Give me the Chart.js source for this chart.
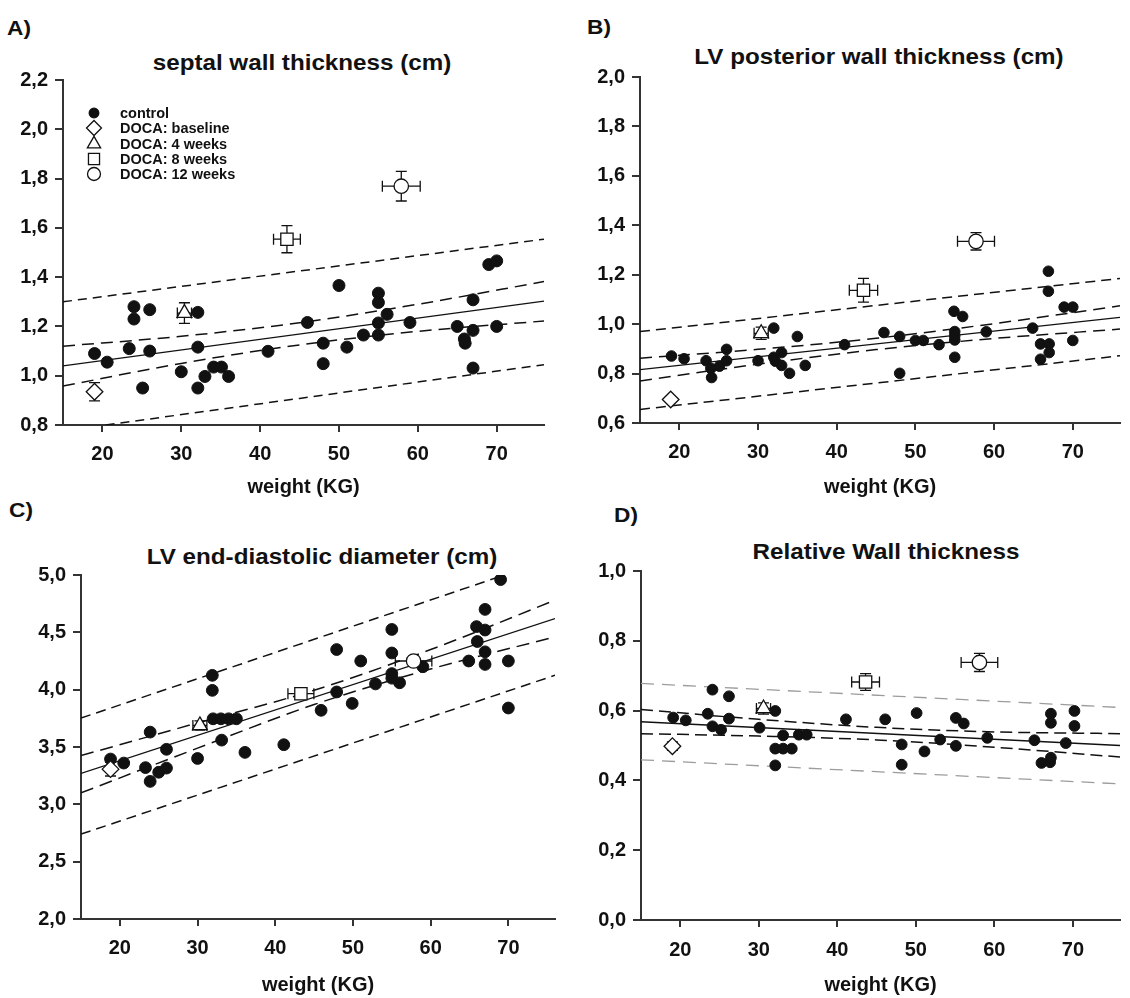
<!DOCTYPE html>
<html>
<head>
<meta charset="utf-8">
<script src="https://cdn.jsdelivr.net/npm/chart.js@4.4.1/dist/chart.umd.min.js"></script>
<style>
  body { margin: 0; background: #fff; width: 1130px; height: 998px; position: relative; overflow: hidden;
         font-family: "Liberation Sans", Arial, sans-serif; color: #111; }
  canvas { position: absolute; }
  .lbl { position: absolute; font-weight: bold; font-size: 21px; line-height: 1; transform: scaleX(1.08); transform-origin: left center; }
  .ttl { position: absolute; font-weight: bold; font-size: 22px; line-height: 1; white-space: nowrap;
         transform: translate(-50%, -50%) scaleX(1.1); }
</style>
</head>
<body>
<div class="lbl" style="left:7px;top:17px">A)</div>
<div class="lbl" style="left:587px;top:16px">B)</div>
<div class="lbl" style="left:9px;top:499px">C)</div>
<div class="lbl" style="left:614px;top:504px">D)</div>
<div class="ttl" style="left:302px;top:63px">septal wall thickness (cm)</div>
<div class="ttl" style="left:879px;top:57px">LV posterior wall thickness (cm)</div>
<div class="ttl" style="left:322px;top:557px">LV end-diastolic diameter (cm)</div>
<div class="ttl" style="left:886px;top:552px">Relative Wall thickness</div>

<canvas id="cA" width="565" height="500" style="left:0;top:0"></canvas>
<canvas id="cB" width="565" height="500" style="left:565px;top:0"></canvas>
<canvas id="cC" width="565" height="498" style="left:0;top:500px"></canvas>
<canvas id="cD" width="565" height="498" style="left:565px;top:500px"></canvas>

<script>
// ---- valeurs ----
const xTicks = [20, 30, 40, 50, 60, 70];
const xTitle = "weight (KG)";
const groupNames = ["control", "DOCA: baseline", "DOCA: 4 weeks", "DOCA: 8 weeks", "DOCA: 12 weeks"];

// A) septal wall thickness
const yTicksA = [0.8, 1.0, 1.2, 1.4, 1.6, 1.8, 2.0, 2.2];
const ctrlA_x = [19, 20.6, 23.4, 24, 24, 25.1, 26, 26, 30, 32.1, 32.1, 32.1, 33, 34.1, 35.1, 36, 41, 46, 48, 48,
                 50, 51, 53.1, 55, 55, 55, 55, 56.1, 59, 65, 65.9, 66, 67, 67, 67, 69, 70, 70];
const ctrlA_y = [1.09, 1.055, 1.11, 1.28, 1.23, 0.95, 1.268, 1.10, 1.016, 1.257, 1.116, 0.95, 0.997, 1.035, 1.035, 0.997, 1.099, 1.216, 1.132, 1.049,
                 1.366, 1.116, 1.165, 1.335, 1.297, 1.214, 1.165, 1.249, 1.216, 1.2, 1.149, 1.132, 1.308, 1.184, 1.031, 1.451, 1.466, 1.2];
const docaA_x = [19, 30.4, 43.4, 57.9];
const docaA_y = [0.935, 1.254, 1.554, 1.769];
const docaA_xe = [0, 0.9, 1.7, 2.4];
const docaA_ye = [0.037, 0.042, 0.055, 0.06];
const fitA_x = [15, 76];
const fitA_y = [1.04, 1.303];
const bandA_x = [15, 30, 45, 60, 76];
const ciHiA = [1.12, 1.16, 1.215, 1.29, 1.382];
const ciLoA = [0.958, 1.05, 1.125, 1.18, 1.222];
const predHiA_x = [15, 76];
const predHiA = [1.30, 1.554];
const predLoA_x = [20.4, 45, 76];
const predLoA = [0.80, 0.908, 1.045];

// B) LV posterior wall thickness
const yTicksB = [0.6, 0.8, 1.0, 1.2, 1.4, 1.6, 1.8, 2.0];
const ctrlB_x = [19, 20.6, 23.4, 24, 24.1, 25.1, 26, 26, 30, 32, 32, 32.2, 33, 33, 34, 35, 36, 41, 46, 48, 48,
                 50, 51, 53, 54.9, 56, 55, 55, 55, 55, 59, 64.9, 66.9, 66.9, 65.9, 67, 65.9, 67, 68.9, 70, 70];
const ctrlB_y = [0.871, 0.86, 0.852, 0.821, 0.784, 0.83, 0.898, 0.852, 0.852, 0.984, 0.866, 0.85, 0.885, 0.833, 0.801, 0.95, 0.833, 0.917, 0.966, 0.95, 0.801,
                 0.934, 0.934, 0.917, 1.052, 1.031, 0.97, 0.953, 0.936, 0.866, 0.969, 0.984, 1.214, 1.133, 0.92, 0.92, 0.858, 0.885, 1.069, 1.069, 0.934];
const docaB_x = [18.9, 30.4, 43.4, 57.7];
const docaB_y = [0.695, 0.963, 1.137, 1.335];
const docaB_xe = [0, 0.9, 1.8, 2.35];
const docaB_ye = [0, 0.025, 0.048, 0.035];
const fitB_x = [15, 76];
const fitB_y = [0.816, 1.027];
const bandB_x = [15, 30, 45, 60, 76];
const ciHiB = [0.862, 0.898, 0.943, 1.002, 1.074];
const ciLoB = [0.77, 0.838, 0.897, 0.942, 0.98];
const predHiB_x = [15, 76];
const predHiB = [0.97, 1.185];
const predLoB_x = [15, 76];
const predLoB = [0.655, 0.872];

// C) LV end-diastolic diameter
const yTicksC = [2.0, 2.5, 3.0, 3.5, 4.0, 4.5, 5.0];
const ctrlC_x = [18.8, 20.5, 23.3, 23.9, 25, 26, 26, 30, 33.1, 36.1, 41.1, 23.9, 31.9, 31.9, 32, 33, 34, 35, 45.9, 47.9,
                 47.9, 49.9, 51, 52.9, 55, 55, 55, 55, 56, 59, 64.9, 65.9, 66, 67, 67, 67, 67, 69, 70, 70];
const ctrlC_y = [3.395, 3.36, 3.32, 3.2, 3.28, 3.48, 3.316, 3.4, 3.56, 3.453, 3.52, 3.63, 4.125, 3.994, 3.746, 3.746, 3.746, 3.746, 3.82, 4.35,
                 3.98, 3.88, 4.25, 4.05, 4.525, 4.32, 4.14, 4.10, 4.06, 4.2, 4.25, 4.55, 4.42, 4.7, 4.52, 4.33, 4.22, 4.96, 4.25, 3.84];
const docaC_x = [18.8, 30.3, 43.3, 57.8];
const docaC_y = [3.307, 3.688, 3.965, 4.25];
const docaC_xe = [0, 0.9, 1.67, 2.35];
const docaC_ye = [0.06, 0.04, 0.04, 0.04];
const fitC_x = [15, 76];
const fitC_y = [3.27, 4.62];
const bandC_x = [15, 30, 45, 60, 76];
const ciHiC = [3.425, 3.71, 3.995, 4.35, 4.78];
const ciLoC = [3.10, 3.49, 3.87, 4.18, 4.46];
const predHiC_x = [15, 69.5];
const predHiC = [3.752, 5.0];
const predLoC_x = [15, 76];
const predLoC = [2.74, 4.125];

// D) Relative wall thickness
const yTicksD = [0.0, 0.2, 0.4, 0.6, 0.8, 1.0];
const ctrlD_x = [19.1, 20.7, 23.5, 24.1, 24.1, 25.2, 26.2, 26.2, 30.1, 32.1, 33.1, 32.1, 33.1, 34.2, 32.1, 35.1, 36.1, 41.1, 46.1,
                 48.2, 48.2, 50.1, 51.1, 53.1, 55.1, 56.1, 55.1, 59.1, 65.1, 67.2, 67.2, 66, 67.2, 67.1, 69.1, 70.2, 70.2];
const ctrlD_y = [0.58, 0.572, 0.591, 0.66, 0.555, 0.545, 0.641, 0.577, 0.551, 0.599, 0.529, 0.491, 0.491, 0.491, 0.443, 0.531, 0.531, 0.575, 0.575,
                 0.503, 0.445, 0.593, 0.483, 0.517, 0.579, 0.563, 0.499, 0.522, 0.515, 0.591, 0.565, 0.45, 0.465, 0.452, 0.507, 0.599, 0.556];
const docaD_x = [19.0, 30.6, 43.6, 58.1];
const docaD_y = [0.498, 0.606, 0.682, 0.738];
const docaD_xe = [0, 0.9, 1.77, 2.33];
const docaD_ye = [0.012, 0.016, 0.024, 0.026];
const fitD_x = [15, 76];
const fitD_y = [0.568, 0.50];
const bandD_x = [15, 30, 45, 60, 76];
const ciHiD = [0.603, 0.575, 0.552, 0.539, 0.534];
const ciLoD = [0.534, 0.527, 0.516, 0.495, 0.467];
const predHiD_x = [15, 76];
const predHiD = [0.678, 0.609];
const predLoD_x = [15, 76];
const predLoD = [0.459, 0.390];

// ---- styles ----
const FONT = "'Liberation Sans', Arial, sans-serif";
const INK = "#111111";
const AXIS = "#333333";
const GREY = "#9c9c9c";
const CAP = 5.5;

// marqueurs : control plein, DOCA creux
const MARKS = [
  { pointStyle: "circle", radius: 5.8, fill: INK },
  { pointStyle: "rectRot", radius: 8.3, fill: "#fff" },
  { pointStyle: "triangle", radius: 8.5, fill: "#fff" },
  { pointStyle: "rect", radius: 8.7, fill: "#fff" },
  { pointStyle: "circle", radius: 7.2, fill: "#fff" }
];

const pts = (xs, ys) => xs.map((x, i) => ({ x, y: ys[i] }));

// Barres d'erreur dessinées sous les marqueurs DOCA
const errorBars = {
  id: "errorBars",
  beforeDatasetDraw(chart, args) {
    const ds = chart.data.datasets[args.index];
    if (!ds.errX) return;
    const sx = chart.scales.x, sy = chart.scales.y, ctx = chart.ctx;
    ctx.save();
    ctx.strokeStyle = INK;
    ctx.lineWidth = 1.3;
    ds.data.forEach((p, i) => {
      const px = sx.getPixelForValue(p.x), py = sy.getPixelForValue(p.y);
      const ex = ds.errX[i], ey = ds.errY[i];
      ctx.beginPath();
      if (ey) {
        const y1 = sy.getPixelForValue(p.y + ey), y2 = sy.getPixelForValue(p.y - ey);
        ctx.moveTo(px, y1); ctx.lineTo(px, y2);
        ctx.moveTo(px - CAP, y1); ctx.lineTo(px + CAP, y1);
        ctx.moveTo(px - CAP, y2); ctx.lineTo(px + CAP, y2);
      }
      if (ex) {
        const x1 = sx.getPixelForValue(p.x - ex), x2 = sx.getPixelForValue(p.x + ex);
        ctx.moveTo(x1, py); ctx.lineTo(x2, py);
        ctx.moveTo(x1, py - CAP); ctx.lineTo(x1, py + CAP);
        ctx.moveTo(x2, py - CAP); ctx.lineTo(x2, py + CAP);
      }
      ctx.stroke();
    });
    ctx.restore();
  }
};

// Légende dans la zone du graphe A
const insetLegend = {
  id: "insetLegend",
  afterDraw(chart, args, opts) {
    if (!opts || !opts.display) return;
    const ctx = chart.ctx;
    ctx.save();
    ctx.font = "bold 14.5px " + FONT;
    ctx.textBaseline = "middle";
    ctx.textAlign = "left";
    groupNames.forEach((name, i) => {
      const m = MARKS[i], y = opts.rows[i];
      ctx.fillStyle = m.fill;
      ctx.strokeStyle = INK;
      ctx.lineWidth = 1.3;
      Chart.helpers.drawPoint(ctx, { pointStyle: m.pointStyle, radius: i === 0 ? 4.8 : m.radius * 0.9, borderWidth: 1.3, rotation: 0 }, opts.symbolX, y);
      ctx.fillStyle = INK;
      ctx.fillText(name, opts.textX, y + 0.5);
    });
    ctx.restore();
  }
};

function lineDs(xs, ys, dash, color, width, smooth) {
  return {
    data: pts(xs, ys), showLine: true, pointRadius: 0, borderColor: color, borderWidth: width,
    borderDash: dash, fill: false, order: 3, clip: 0,
    cubicInterpolationMode: smooth ? "monotone" : "default"
  };
}

function makePanel(id, p) {
  const tickFont = { family: FONT, size: 20, weight: "bold" };
  const datasets = [
    lineDs(p.predLoX, p.predLo, p.outerDash, p.outerColor, p.outerWidth, false),
    lineDs(p.predHiX, p.predHi, p.outerDash, p.outerColor, p.outerWidth, false),
    lineDs(p.bandX, p.ciLo, p.innerDash, INK, 1.5, true),
    lineDs(p.bandX, p.ciHi, p.innerDash, INK, 1.5, true),
    lineDs(p.fitX, p.fitY, [], INK, 1.3, false),
    {
      data: pts(p.ctrlX, p.ctrlY), pointStyle: "circle", pointRadius: p.dot,
      pointBackgroundColor: INK, pointBorderColor: INK, pointBorderWidth: 1, order: 2
    }
  ];
  for (let g = 0; g < 4; g++) {
    const m = MARKS[g + 1];
    datasets.push({
      data: [{ x: p.docaX[g], y: p.docaY[g] }], errX: [p.docaXe[g]], errY: [p.docaYe[g]],
      pointStyle: m.pointStyle, pointRadius: m.radius, pointBackgroundColor: "#fff",
      pointBorderColor: INK, pointBorderWidth: 1.3, order: 1
    });
  }
  const axisGrid = { drawOnChartArea: false, drawTicks: true, tickLength: 7, color: AXIS, lineWidth: 2 };
  return new Chart(document.getElementById(id), {
    type: "scatter",
    data: { datasets },
    plugins: [errorBars, insetLegend],
    options: {
      responsive: false,
      animation: false,
      events: [],
      layout: { padding: { left: 0, right: p.padRight, top: p.padTop, bottom: 0 } },
      plugins: {
        legend: { display: false },
        tooltip: { enabled: false },
        insetLegend: p.legend || { display: false }
      },
      scales: {
        x: {
          type: "linear", min: 15, max: 76,
          afterBuildTicks: s => { s.ticks = xTicks.map(v => ({ value: v })); },
          afterFit: s => { s.height = p.xh; },
          grid: axisGrid,
          border: { display: true, color: AXIS, width: 2 },
          ticks: { color: INK, font: tickFont, padding: p.xPad, maxRotation: 0, autoSkip: false },
          title: { display: true, text: xTitle, color: INK, font: tickFont, padding: { top: 0, bottom: 1 } }
        },
        y: {
          type: "linear", min: p.yTicks[0], max: p.yTicks[p.yTicks.length - 1],
          afterBuildTicks: s => { s.ticks = p.yTicks.map(v => ({ value: v })); },
          afterFit: s => { s.width = p.yw; },
          grid: Object.assign({}, axisGrid, { tickLength: 8 }),
          border: { display: true, color: AXIS, width: 2 },
          ticks: { color: INK, font: tickFont, padding: 7, callback: v => v.toFixed(1).replace(".", ",") }
        }
      }
    }
  });
}

makePanel("cA", {
  yTicks: yTicksA, ctrlX: ctrlA_x, ctrlY: ctrlA_y, docaX: docaA_x, docaY: docaA_y, docaXe: docaA_xe, docaYe: docaA_ye,
  fitX: fitA_x, fitY: fitA_y, bandX: bandA_x, ciHi: ciHiA, ciLo: ciLoA,
  predHiX: predHiA_x, predHi: predHiA, predLoX: predLoA_x, predLo: predLoA,
  outerDash: [9, 6], innerDash: [12, 7], outerColor: INK, outerWidth: 1.5, dot: 6,
  yw: 63, xh: 75, padTop: 80, padRight: 21, xPad: 10,
  legend: { display: true, symbolX: 94, textX: 120, rows: [113, 128, 144, 159, 174] }
});
makePanel("cB", {
  yTicks: yTicksB, ctrlX: ctrlB_x, ctrlY: ctrlB_y, docaX: docaB_x, docaY: docaB_y, docaXe: docaB_xe, docaYe: docaB_ye,
  fitX: fitB_x, fitY: fitB_y, bandX: bandB_x, ciHi: ciHiB, ciLo: ciLoB,
  predHiX: predHiB_x, predHi: predHiB, predLoX: predLoB_x, predLo: predLoB,
  outerDash: [10, 6], innerDash: [12, 7], outerColor: INK, outerWidth: 1.5, dot: 5.3,
  yw: 75, xh: 77, padTop: 77, padRight: 10, xPad: 10
});
makePanel("cC", {
  yTicks: yTicksC, ctrlX: ctrlC_x, ctrlY: ctrlC_y, docaX: docaC_x, docaY: docaC_y, docaXe: docaC_xe, docaYe: docaC_ye,
  fitX: fitC_x, fitY: fitC_y, bandX: bandC_x, ciHi: ciHiC, ciLo: ciLoC,
  predHiX: predHiC_x, predHi: predHiC, predLoX: predLoC_x, predLo: predLoC,
  outerDash: [10, 6], innerDash: [13, 7], outerColor: INK, outerWidth: 1.5, dot: 5.9,
  yw: 81, xh: 79, padTop: 75, padRight: 3, xPad: 10
});
makePanel("cD", {
  yTicks: yTicksD, ctrlX: ctrlD_x, ctrlY: ctrlD_y, docaX: docaD_x, docaY: docaD_y, docaXe: docaD_xe, docaYe: docaD_ye,
  fitX: fitD_x, fitY: fitD_y, bandX: bandD_x, ciHi: ciHiD, ciLo: ciLoD,
  predHiX: predHiD_x, predHi: predHiD, predLoX: predLoD_x, predLo: predLoD,
  outerDash: [13, 8], innerDash: [12, 6], outerColor: GREY, outerWidth: 1.3, dot: 5.4,
  yw: 76, xh: 78, padTop: 71, padRight: 0, xPad: 11
});
</script>
</body>
</html>
